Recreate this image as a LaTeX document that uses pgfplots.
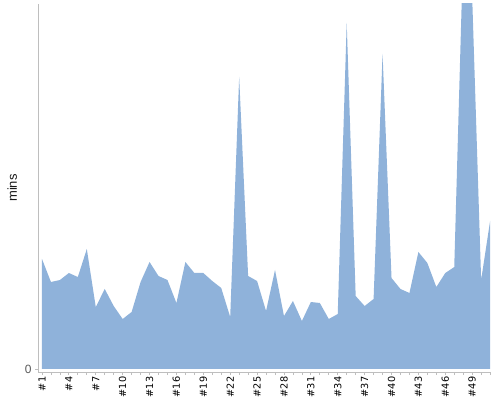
\documentclass[border=0pt]{standalone}
\usepackage{pgfplots}
\pgfplotsset{compat=1.18}
\usepackage{fontspec}
\setmainfont{DejaVu Sans}
\newfontfamily\arialfont{Liberation Sans}
\definecolor{areafill}{RGB}{143,178,218}
\definecolor{axgray}{RGB}{190,190,190}
\begin{document}
\begin{tikzpicture}
\useasboundingbox (-38bp,-28bp) rectangle (462bp,372bp);
\begin{axis}[
  at={(0,0)}, anchor=south west,
  scale only axis, width=453bp, height=368bp,
  xmin=0.554, xmax=51.1, ymin=-3, ymax=365,
  axis x line*=bottom, axis y line*=left,
  axis line style={axgray, line width=0.8bp},
  /pgf/number format/assume math mode=true,
  xtick={1,4,...,49},
  xticklabels={\#1,\#4,\#7,\#10,\#13,\#16,\#19,\#22,\#25,\#28,\#31,\#34,\#37,\#40,\#43,\#46,\#49},
  minor xtick={1,...,51},
  x tick label style={rotate=90, anchor=east, font=\fontsize{9.8}{10}\selectfont, inner sep=1.5bp},
  ytick={0},
  y tick label style={font=\arialfont\fontsize{12}{13}\selectfont, text=black!65},
  tick style={axgray, line width=0.8bp},
  tick align=outside,
  major tick length=3bp, minor tick length=3bp,
  ylabel={mins},
  ylabel style={at={(axis description cs:-0.057,0.5)}, anchor=center, font=\arialfont\fontsize{13}{15}\selectfont, text=black!90},
]
\addplot[fill=areafill, draw=none] coordinates {
(1,110) (2,87) (3,89) (4,96) (5,92) (6,120) (7,62) (8,80) (9,63) (10,50)
(11,57) (12,87) (13,107) (14,93) (15,89) (16,66) (17,107) (18,96) (19,96) (20,88)
(21,81) (22,52) (23,292) (24,93) (25,88) (26,58) (27,99) (28,53) (29,68) (30,48)
(31,67) (32,66) (33,50) (34,55) (35,346) (36,73) (37,63) (38,70) (39,315) (40,91)
(41,80) (42,76) (43,117) (44,106) (45,82) (46,96) (47,102) (48,420) (49,372) (50,89)
(51,148)
} \closedcycle;
\end{axis}
\end{tikzpicture}
\end{document}
